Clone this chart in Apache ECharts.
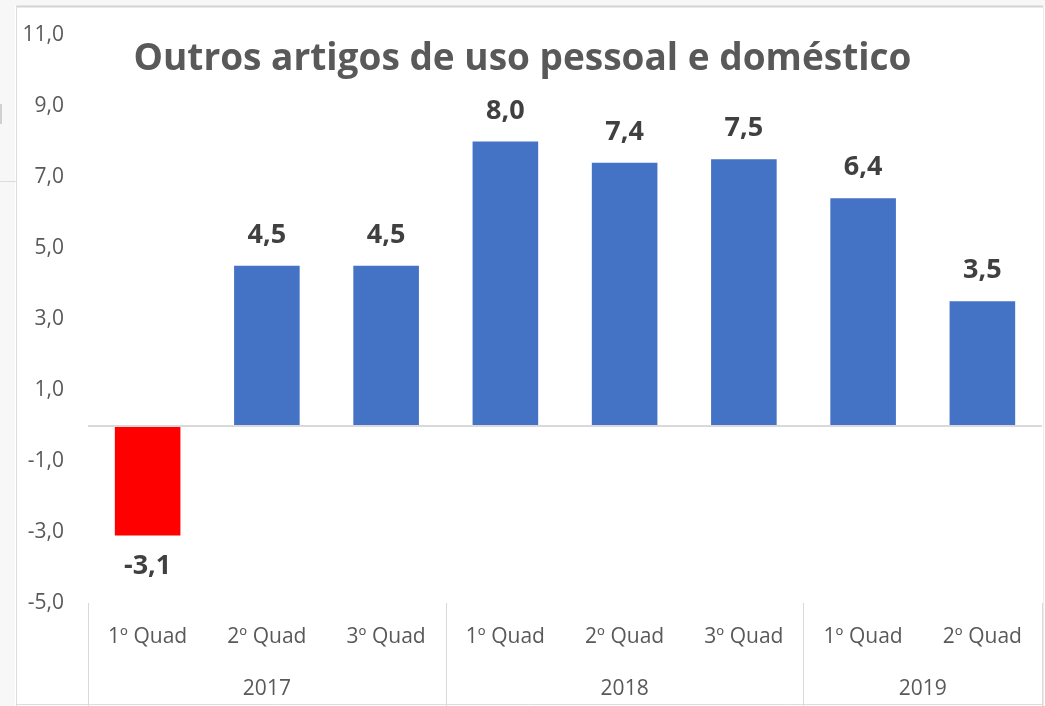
<!DOCTYPE html>
<html lang="pt">
<head>
  <meta charset="UTF-8">
  <title>Outros artigos de uso pessoal e doméstico</title>
  <script src="https://cdn.jsdelivr.net/npm/echarts@6/dist/echarts.min.js"></script>
  <style>
    html, body { margin: 0; padding: 0; background: #fff; }
    #chart { width: 1045px; height: 706px; }
  </style>
</head>
<body>
<div id="chart"></div>
<script>
  // dados
  const quads = ['1º Quad', '2º Quad', '3º Quad', '1º Quad', '2º Quad', '3º Quad', '1º Quad', '2º Quad'];
  const years = ['2017', '2018', '2019'];
  const yearCenters = [1.5, 4.5, 7];   // centro de cada grupo de quadrimestres
  const groupStarts = [0, 3, 6];
  const values = [-3.1, 4.5, 4.5, 8.0, 7.4, 7.5, 6.4, 3.5];

  const BLUE = '#4472C4';
  const RED = '#FF0000';
  const FONT = "'Open Sans', sans-serif";

  function fmt(v) {
    return Number(v).toFixed(1).replace('.', ',');
  }

  const chart = echarts.init(document.getElementById('chart'));

  chart.setOption({
    animation: false,
    textStyle: { fontFamily: FONT },
    title: {
      text: 'Outros artigos de uso pessoal e doméstico',
      left: 'center',
      top: 36,
      textStyle: { fontFamily: FONT, fontSize: 37, fontWeight: 'bold', color: '#595959' }
    },
    grid: { left: 88, right: 0, top: 35, bottom: 103, containLabel: false },
    xAxis: [{
      type: 'category',
      data: quads,
      position: 'bottom',
      axisLine: { show: false, onZero: false },
      axisTick: {
        show: true,
        length: 103,
        interval: function (i) { return groupStarts.indexOf(i) >= 0; },
        lineStyle: { color: '#d9d9d9', width: 1 }
      },
      axisLabel: { color: '#595959', fontSize: 21, margin: 24, interval: 0 }
    }, {
      type: 'value',
      min: 0,
      max: 8,
      interval: 0.5,
      position: 'bottom',
      axisLine: { show: false, onZero: false },
      axisTick: { show: false },
      splitLine: { show: false },
      axisLabel: {
        color: '#595959',
        fontSize: 21,
        margin: 76,
        showMinLabel: true,
        showMaxLabel: true,
        formatter: function (v) {
          const k = yearCenters.indexOf(v);
          return k >= 0 ? years[k] : '';
        }
      }
    }],
    yAxis: {
      type: 'value',
      min: -5,
      max: 11,
      interval: 2,
      axisLine: { show: false },
      axisTick: { show: false },
      splitLine: { show: false },
      axisLabel: { color: '#595959', fontSize: 21, margin: 24, formatter: fmt }
    },
    series: [{
      type: 'bar',
      xAxisIndex: 0,
      barWidth: '55%',
      data: values.map(v => ({
        value: v,
        itemStyle: { color: v < 0 ? RED : BLUE },
        label: { position: v < 0 ? 'bottom' : 'top' }
      })),
      label: {
        show: true,
        distance: 17,
        color: '#404040',
        fontSize: 27,
        fontWeight: 'bold',
        formatter: p => fmt(p.value)
      },
      markLine: {
        silent: true,
        symbol: 'none',
        label: { show: false },
        lineStyle: { color: '#d9d9d9', type: 'solid', width: 2 },
        data: [{ yAxis: 0 }]
      }
    }],
    graphic: [
      // moldura cinza do recorte original
      { type: 'rect', left: 0, top: 0, shape: { width: 1045, height: 6 }, style: { fill: '#f7f7f7' }, silent: true },
      { type: 'rect', left: 0, top: 0, shape: { width: 15, height: 706 }, style: { fill: '#f7f7f7' }, silent: true },
      { type: 'line', shape: { x1: 16, y1: 6.5, x2: 1043, y2: 6.5 }, style: { stroke: '#d4d4d4', lineWidth: 2 }, silent: true },
      { type: 'line', shape: { x1: 16.5, y1: 6, x2: 16.5, y2: 706 }, style: { stroke: '#dcdcdc', lineWidth: 1 }, silent: true },
      { type: 'line', shape: { x1: 16, y1: 704.5, x2: 1043, y2: 704.5 }, style: { stroke: '#dcdcdc', lineWidth: 1 }, silent: true },
      { type: 'line', shape: { x1: 1043.5, y1: 6, x2: 1043.5, y2: 706 }, style: { stroke: '#ececec', lineWidth: 1 }, silent: true },
      { type: 'line', shape: { x1: 0, y1: 181.5, x2: 16, y2: 181.5 }, style: { stroke: '#dcdcdc', lineWidth: 1 }, silent: true },
      { type: 'rect', shape: { x: 0, y: 104, width: 2, height: 20 }, style: { fill: '#d0d0d0' }, silent: true }
    ]
  });
</script>
</body>
</html>
